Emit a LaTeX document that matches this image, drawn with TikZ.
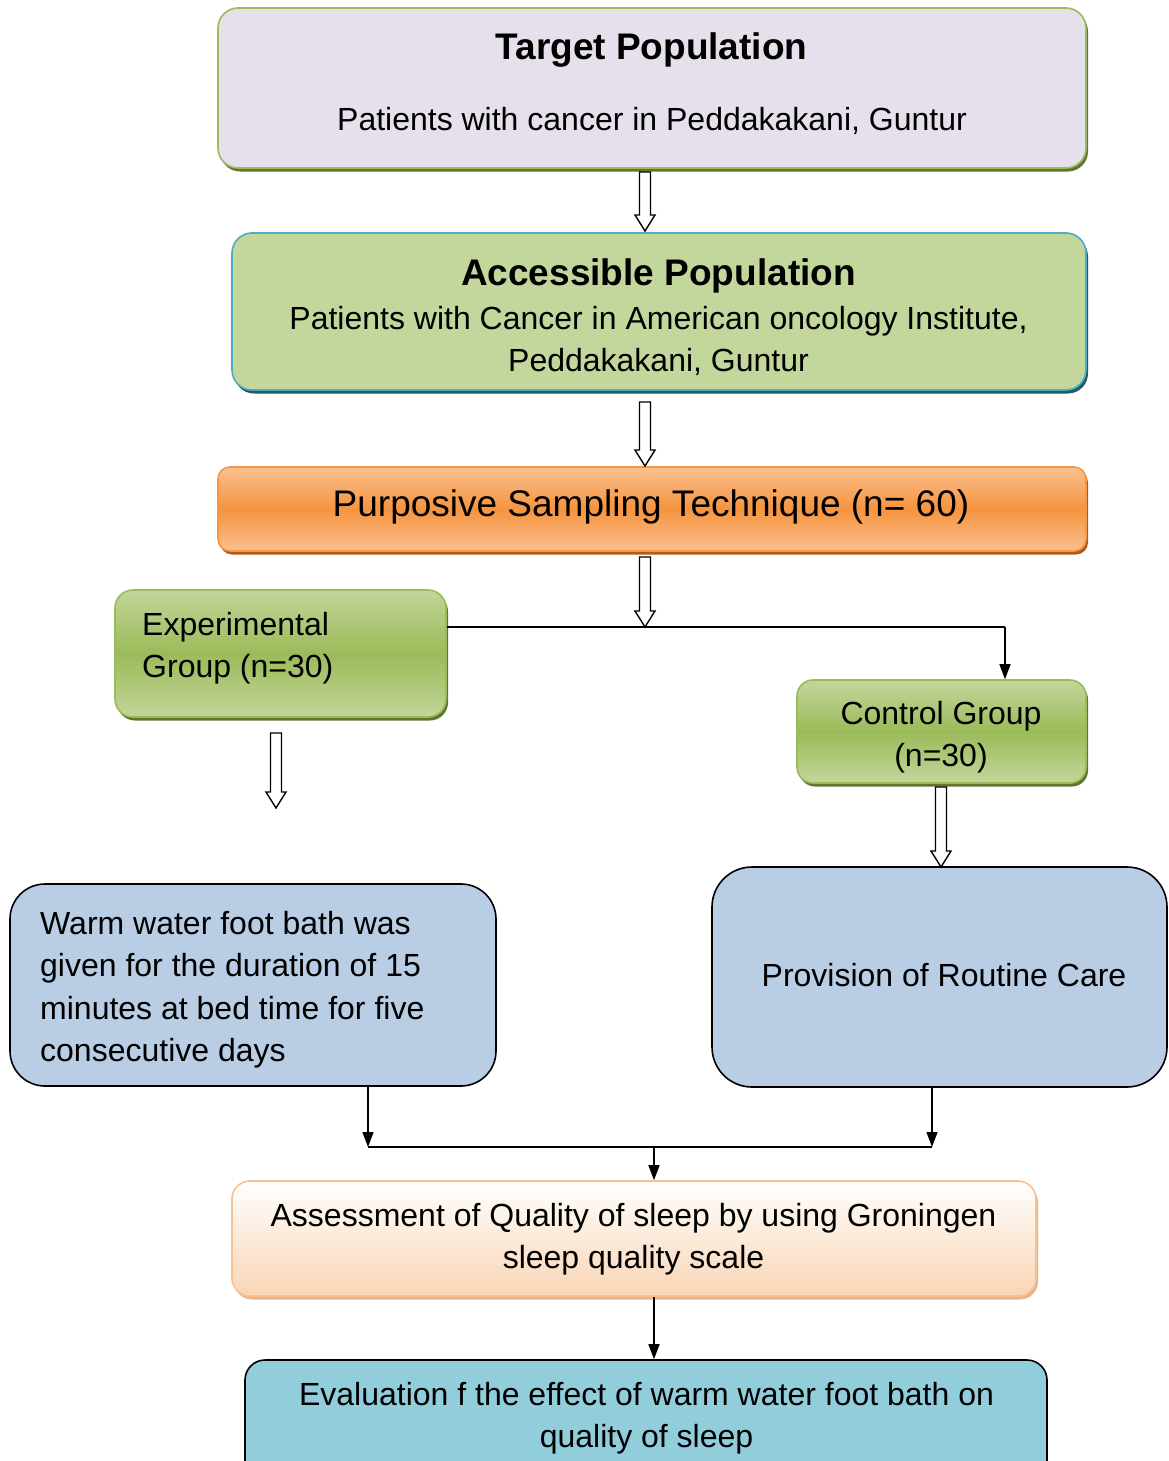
\documentclass[tikz,border=0pt]{standalone}
\usepackage{fontspec}
\setmainfont{Liberation Sans}
\usetikzlibrary{shadows,calc,arrows.meta}
\definecolor{lav}{HTML}{E5E0EC}
\definecolor{olive}{HTML}{9BBB59}
\definecolor{olivelt}{HTML}{C3D69B}
\definecolor{olivedk}{HTML}{5F7530}
\definecolor{aqua}{HTML}{4BACC6}
\definecolor{aquadk}{HTML}{215968}
\definecolor{orng}{HTML}{F79646}
\definecolor{orngmid}{HTML}{F6943F}
\definecolor{ornglt}{HTML}{FAC090}
\definecolor{orngdk}{HTML}{B35A14}
\definecolor{peach}{HTML}{F9D5B5}
\definecolor{peachdk}{HTML}{E6B58E}
\definecolor{steel}{HTML}{B9CDE5}
\definecolor{teal}{HTML}{92CDDC}
\newcommand\bodyfont{\fontsize{32}{42.5}\selectfont}
\newcommand\titlefont{\bfseries\fontsize{37}{44}\selectfont}
\newcommand\blockarr[2]{\draw[barrow] ($(#1)+(-5.5,0)$) -- ($(#2)+(-5.5,-16)$) -- ($(#2)+(-10,-16)$) -- (#2) -- ($(#2)+(10,-16)$) -- ($(#2)+(5.5,-16)$) -- ($(#1)+(5.5,0)$) -- cycle;}
\begin{document}
\begin{tikzpicture}[x=1pt,y=-1pt,
  box/.style={inner sep=0pt, line width=1.6pt},
  txt/.style={inner sep=0pt, font=\bodyfont},
  barrow/.style={draw=black, fill=white, line width=1.4pt, line join=miter},
  conn/.style={draw=black, line width=1.4pt, -{Triangle[length=15pt,width=11pt]}},
  plain/.style={draw=black, line width=1.4pt},
  shd/.style={drop shadow={shadow xshift=2pt, shadow yshift=-3.5pt, fill=#1, opacity=1}}
]
\useasboundingbox (0,0) rectangle (1168,1461);
\clip (0,0) rectangle (1168,1461);

% boxes
\node[box, shd=olivedk, draw=olive, fill=lav, rounded corners=20pt,
  minimum width=868pt, minimum height=160pt] (target) at (652,88) {};
\node[box, shd=aquadk, draw=aqua, fill=olivelt, rounded corners=20pt,
  minimum width=854pt, minimum height=157pt] (access) at (659,311.5) {};
\node[box, shd=orngdk, draw=orng, top color=ornglt, bottom color=ornglt, middle color=orngmid,
  rounded corners=12pt, minimum width=868pt, minimum height=84pt] (purp) at (652,509) {};
\node[box, shd=olivedk, draw=olive, top color=olivelt, bottom color=olivelt, middle color=olive,
  rounded corners=18pt, minimum width=331pt, minimum height=127pt] (exper) at (280.5,653.5) {};
\node[box, shd=olivedk, draw=olive, top color=olivelt, bottom color=olivelt, middle color=olive,
  rounded corners=16pt, minimum width=289pt, minimum height=103pt] (control) at (941.5,731.5) {};
\node[box, draw=black, fill=steel, rounded corners=35pt,
  minimum width=486pt, minimum height=202pt] (warm) at (253,985) {};
\node[box, draw=black, fill=steel, rounded corners=40pt,
  minimum width=455pt, minimum height=220pt] (routine) at (939.5,977) {};
\node[box, shd=peachdk, draw=ornglt, top color=white, bottom color=peach,
  rounded corners=18pt, minimum width=804pt, minimum height=115pt] (assess) at (634,1238.5) {};
\node[box, draw=black, fill=teal, rounded corners=20pt,
  minimum width=802pt, minimum height=130pt] (evalb) at (646,1425) {};

% texts
\node[inner sep=0pt, font=\titlefont, anchor=base] (t1) at (651.5,60) {Target Population};
\node[txt, anchor=base] (t2) at (652,131) {Patients with cancer in Peddakakani, Guntur};
\node[inner sep=0pt, font=\titlefont, anchor=base] (a1) at (658.5,285) {Accessible Population};
\node[txt, anchor=north, align=center] (a2) at (658.5,299.25) {\strut Patients with Cancer in American oncology Institute,\\Peddakakani, Guntur};
\node[inner sep=0pt, font=\fontsize{37}{44}\selectfont, anchor=base] (p1) at (651,516) {Purposive Sampling Technique (n= 60)};
\node[txt, anchor=north west, align=left] (e1) at (142,605.25) {\strut Experimental\\Group (n=30)};
\node[txt, anchor=north, align=center] (c1) at (941,694.25) {\strut Control Group\\(n=30)};
\node[txt, anchor=north west, align=left] (w1) at (40,904.25) {\strut Warm water foot bath was\\given for the duration of 15\\minutes at bed time for five\\consecutive days};
\node[txt, anchor=base] (r1) at (944,986) {Provision of Routine Care};
\node[txt, anchor=north, align=center] (s1) at (633.5,1196.25) {\strut Assessment of Quality of sleep by using Groningen\\sleep quality scale};
\node[txt, anchor=north, align=center] (v1) at (646.5,1375.25) {\strut Evaluation f the effect of warm water foot bath on\\quality of sleep};

% block arrows
\coordinate (b1s) at (645,172);  \coordinate (b1e) at (645,231);
\coordinate (b2s) at (645,402);  \coordinate (b2e) at (645,466);
\coordinate (b3s) at (645,557);  \coordinate (b3e) at (645,627);
\coordinate (b4s) at (276,733);  \coordinate (b4e) at (276,808);
\coordinate (b5s) at (941,787);  \coordinate (b5e) at (941,867);
\blockarr{b1s}{b1e}
\blockarr{b2s}{b2e}
\blockarr{b4s}{b4e}
\blockarr{b5s}{b5e}

% split connector
\coordinate (sp) at (1005,627);
\draw[plain] (exper.east |- sp) -- (sp);
\draw[conn] (sp) -- (sp |- control.north);
\blockarr{b3s}{b3e}

% join connectors
\coordinate (jl) at (368,1147);
\coordinate (jr) at (932,1147);
\coordinate (jm) at (654,1147);
\draw[conn] (warm.south -| jl) -- (jl);
\draw[conn] (routine.south -| jr) -- (jr);
\draw[plain] (jl) -- (jr);
\draw[conn] (jm) -- (jm |- assess.north);
\draw[conn] (assess.south -| jm) -- (jm |- evalb.north);
\end{tikzpicture}
\end{document}
